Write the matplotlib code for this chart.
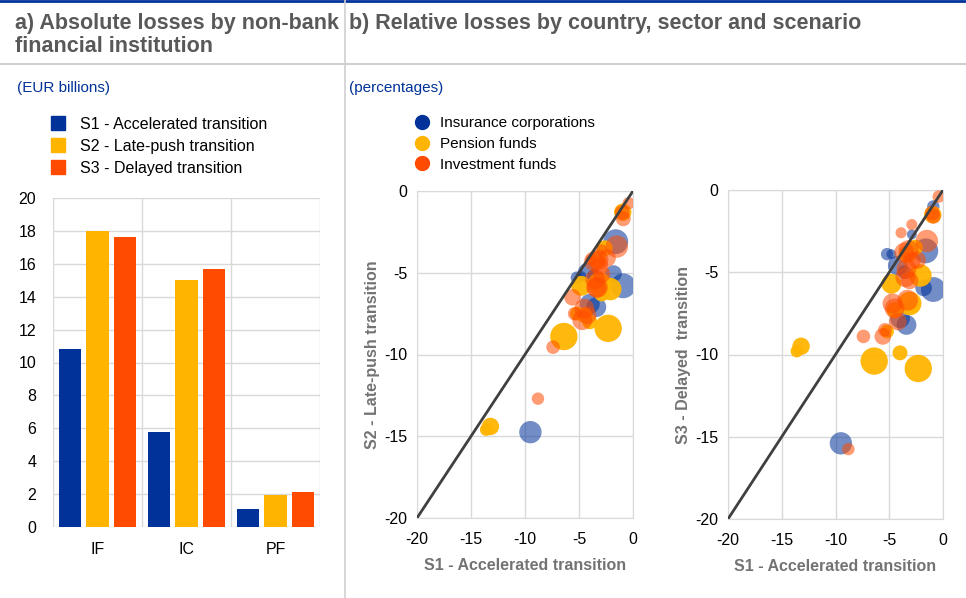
import matplotlib.pyplot as plt
import numpy as np
from matplotlib.patches import Patch
from matplotlib.lines import Line2D

plt.rcParams['font.family'] = ['Liberation Sans', 'DejaVu Sans']
plt.rcParams['axes.unicode_minus'] = False

# panel a) absolute losses (EUR billions)
sectors = ['IF', 'IC', 'PF']
s1_abs = [10.8, 5.8, 1.1]
s2_abs = [18.0, 15.0, 1.95]
s3_abs = [17.6, 15.7, 2.15]
scenario_labels = ['S1 - Accelerated transition', 'S2 - Late-push transition',
                   'S3 - Delayed transition']

# panel b) relative losses (%) per country, by sector: S1, S2, S3 and size weight
ic_s1 = [-9.5, -0.9, -1.6, -1.8, -4.2, -3.4, -4.0, -5.2, -4.8, -0.9, -2.9, -3.6]
ic_s2 = [-14.75, -5.8, -3.1, -5.05, -5.0, -7.1, -6.9, -5.3, -5.2, -1.3, -3.4, -5.2]
ic_s3 = [-15.4, -6.05, -3.7, -5.95, -4.6, -8.2, -7.8, -3.9, -3.9, -1.0, -2.7, -5.0]
ic_w = [81, 100, 100, 45, 64, 64, 64, 25, 16, 25, 16, 30]

pf_s1 = [-13.6, -13.2, -6.4, -2.3, -0.95, -2.1, -4.8, -4.0, -5.2, -2.6, -3.1, -3.3, -4.5, -2.9]
pf_s2 = [-14.6, -14.4, -8.9, -8.4, -1.3, -6.0, -5.8, -8.0, -7.5, -3.5, -5.7, -4.2, -7.6, -6.3]
pf_s3 = [-9.8, -9.5, -10.4, -10.85, -1.5, -5.2, -5.7, -9.9, -8.6, -3.5, -6.9, -3.9, -7.3, -7.0]
pf_w = [25, 49, 121, 121, 49, 81, 64, 36, 30, 40, 90, 50, 40, 36]

if_s1 = [-0.4, -0.9, -7.4, -8.8, -1.5, -5.6, -4.7, -3.6, -3.4, -2.9, -3.9, -4.5, -3.1, -1.0,
         -4.2, -2.9, -3.2, -2.4, -3.5, -3.3, -5.4]
if_s2 = [-0.75, -1.7, -9.55, -12.7, -3.4, -6.5, -7.9, -4.3, -5.9, -3.6, -4.2, -7.2, -4.6, -1.3,
         -7.6, -5.1, -4.2, -4.1, -5.4, -5.9, -7.5]
if_s3 = [-0.4, -1.6, -8.9, -15.75, -3.1, -8.9, -6.9, -3.8, -4.8, -2.1, -2.6, -7.2, -5.5, -1.4,
         -8.0, -4.3, -3.65, -4.26, -5.3, -6.7, -8.5]
if_w = [25, 36, 30, 25, 81, 45, 64, 64, 64, 20, 20, 64, 50, 36, 50, 50, 64, 50, 64, 70, 30]

BLUE = '#003299'
YELLOW = '#FFB400'
RED = '#FF4B00'
GRID = '#d9d9d9'
TITLE_GREY = '#595959'
LABEL_GREY = '#737373'
NOTE_BLUE = '#003299'

fig = plt.figure(figsize=(9.66, 5.98), dpi=100)

# frame lines: top rule, header rule, column separator
fig.add_artist(Line2D([0, 1], [0.998, 0.998], color=BLUE, lw=2, transform=fig.transFigure))
fig.add_artist(Line2D([0, 1], [1 - 64 / 598, 1 - 64 / 598], color='#d0d0d0', lw=1.5, transform=fig.transFigure))
fig.add_artist(Line2D([345 / 966, 345 / 966], [0, 1], color='#d0d0d0', lw=1.2, transform=fig.transFigure))

fig.text(15 / 966, 1 - 13 / 598, 'a) Absolute losses by non-bank\nfinancial institution',
         fontsize=15.5, fontweight='bold', color=TITLE_GREY, va='top', linespacing=1.12)
fig.text(349 / 966, 1 - 13 / 598, 'b) Relative losses by country, sector and scenario',
         fontsize=15.5, fontweight='bold', color=TITLE_GREY, va='top')
fig.text(17 / 966, 1 - 88 / 598, '(EUR billions)', fontsize=11, color=NOTE_BLUE, va='center')
fig.text(349 / 966, 1 - 88 / 598, '(percentages)', fontsize=11, color=NOTE_BLUE, va='center')

# ---- panel a: bar chart
ax = fig.add_axes([53 / 966, 1 - 527 / 598, 267 / 966, 329 / 598])
x = np.arange(len(sectors))
off = 0.31
bw = 0.255
ax.bar(x - off, s1_abs, bw, color=BLUE, zorder=3)
ax.bar(x, s2_abs, bw, color=YELLOW, zorder=3)
ax.bar(x + off, s3_abs, bw, color=RED, zorder=3)
ax.set_xlim(-0.5, 2.5)
ax.set_ylim(0, 20)
ax.set_yticks(np.arange(0, 21, 2))
ax.set_xticks(x)
ax.set_xticklabels(sectors)
ax.set_xticks([-0.5, 0.5, 1.5, 2.5], minor=True)
ax.grid(axis='y', color=GRID, lw=1, zorder=0)
ax.grid(axis='x', which='minor', color=GRID, lw=1, zorder=0)
ax.grid(axis='x', which='major', visible=False)
for s in ax.spines.values():
    s.set_visible(False)
ax.tick_params(which='both', length=0, labelsize=11.5)
ax.tick_params(axis='y', pad=12)
ax.tick_params(axis='x', pad=11)

fig.legend(handles=[Patch(color=c) for c in (BLUE, YELLOW, RED)], labels=scenario_labels,
           loc='upper left', bbox_to_anchor=(51 / 966, 1 - 116 / 598), frameon=False,
           fontsize=11.5, handlelength=0.9, handleheight=1.0, handletextpad=0.9,
           labelspacing=0.4, borderaxespad=0, borderpad=0)

# ---- panel b: scatter charts
sector_series = [
    (ic_s1, ic_s2, ic_s3, ic_w, BLUE, 0.55),
    (pf_s1, pf_s2, pf_s3, pf_w, YELLOW, 0.95),
    (if_s1, if_s2, if_s3, if_w, RED, 0.55),
]

def scatter_panel(rect, which, ylabel):
    a = fig.add_axes(rect)
    a.plot([-20, 0], [-20, 0], color='#404040', lw=2, zorder=4)
    for s1, s2, s3, w, col, al in sector_series:
        yv = s2 if which == 2 else s3
        a.scatter(s1, yv, s=np.array(w) * 3.2, color=col, alpha=al, lw=0, zorder=3)
    a.set_xlim(-20, 0)
    a.set_ylim(-20, 0)
    a.set_xticks([-20, -15, -10, -5, 0])
    a.set_yticks([-20, -15, -10, -5, 0])
    a.grid(color=GRID, lw=1, zorder=0)
    for s in a.spines.values():
        s.set_color(GRID)
    a.tick_params(length=0, labelsize=11.5)
    a.tick_params(axis='y', pad=7)
    a.tick_params(axis='x', pad=10)
    a.set_xlabel('S1 - Accelerated transition', fontsize=11.5, fontweight='bold',
                 color=LABEL_GREY, labelpad=8)
    a.set_ylabel(ylabel, fontsize=11.5, fontweight='bold', color=LABEL_GREY, labelpad=3)
    return a

scatter_panel([417 / 966, 1 - 518 / 598, 216 / 966, 327 / 598], 2, 'S2 - Late-push transition')
scatter_panel([728 / 966, 1 - 519 / 598, 215 / 966, 329 / 598], 3, 'S3 - Delayed  transition')

leg_handles = [Line2D([], [], marker='o', ls='', markersize=10, color=c) for c in (BLUE, YELLOW, RED)]
fig.legend(handles=leg_handles, labels=['Insurance corporations', 'Pension funds', 'Investment funds'],
           loc='upper left', bbox_to_anchor=(414 / 966, 1 - 116 / 598), frameon=False,
           fontsize=11, handlelength=1.0, handletextpad=0.7, labelspacing=0.45,
           borderaxespad=0, borderpad=0)

fig.savefig('out.png', dpi=100)
